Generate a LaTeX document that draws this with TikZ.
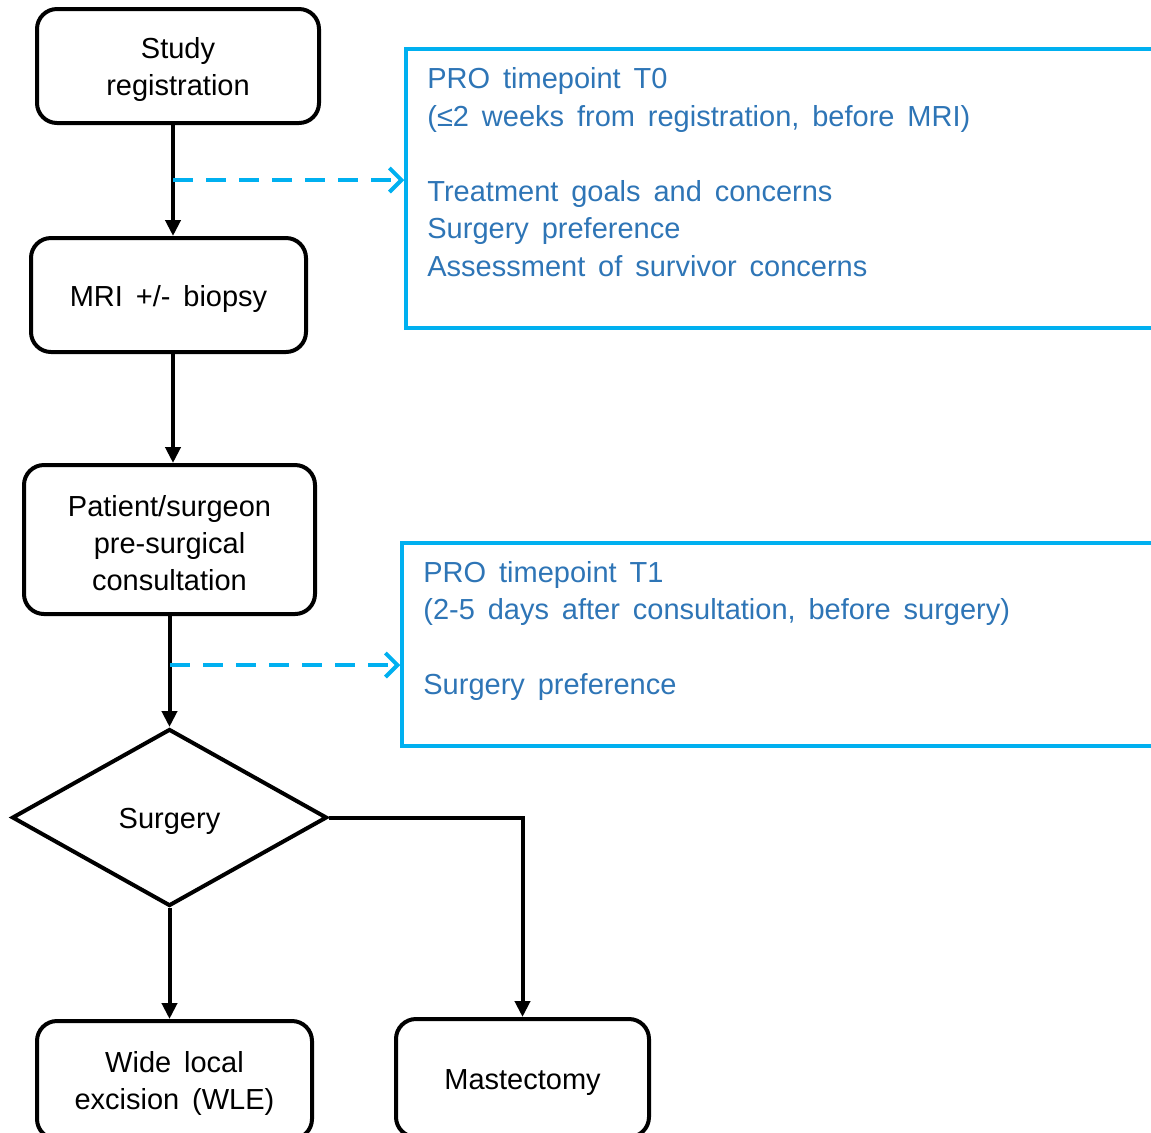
\documentclass[tikz,border=0pt]{standalone}
\usepackage{fontspec}
\setmainfont[WordSpace=1.6]{Liberation Sans}
\usetikzlibrary{shapes.geometric,arrows.meta}
\definecolor{procyan}{HTML}{00B0F0}
\definecolor{problue}{HTML}{2E75B6}
\newcommand{\tstrut}{\rule{0pt}{14pt}}

\begin{document}
\begin{tikzpicture}[x=0.5pt,y=-0.5pt,font=\fontsize{14.5}{18.5}\selectfont]
    \tikzstyle{block} = [rectangle, draw, line width=2pt, rounded corners=10pt,
        align=center, minimum height=57pt]
    \tikzstyle{decision} = [diamond, draw, line width=2pt, aspect=1.78,
        inner sep=0pt, minimum width=157.5pt, minimum height=88.5pt]
    \tikzstyle{line} = [draw, line width=2pt, -{Triangle[length=8pt,width=7.5pt]}]
    \tikzstyle{pro} = [rectangle, draw=procyan, line width=1.75pt]
    \tikzstyle{protext} = [anchor=north west, inner sep=0pt, align=left, text=problue,
        font=\fontsize{14.5}{18.75}\selectfont]
    \tikzstyle{dline} = [draw=procyan, line width=2pt, dash pattern=on 10pt off 6.5pt,
        -{Straight Barb[length=6pt,width=12pt]}]

    \useasboundingbox (0,0) rectangle (1151,1132);

    \node [block, minimum width=141pt] (reg) at (178,66) {\tstrut Study\\registration};
    \node [block, below of=reg, node distance=114.5pt, xshift=-4.75pt,
        minimum width=137.5pt] (mri) {\tstrut MRI +/- biopsy};
    \node [block, below of=mri, node distance=122.25pt, xshift=0.5pt,
        minimum width=145.5pt, minimum height=74.5pt] (consult)
        {\tstrut Patient/surgeon\\pre-surgical\\consultation};
    \node [decision, below of=consult, node distance=139pt] (surg) {\tstrut Surgery};
    \node [block, below of=surg, node distance=131.25pt, xshift=2.5pt,
        minimum width=137.5pt, minimum height=59pt] (wle) {\tstrut Wide local\\excision (WLE)};
    \node [block, right of=wle, node distance=174pt, yshift=1pt,
        minimum width=126.5pt, minimum height=59pt] (mast) {\tstrut Mastectomy};
    %
    \node [pro, minimum width=379.5pt, minimum height=139.5pt] (tzero) at (785.5,188.5) {};
    \node [protext] (tzerotxt) at (427,67.5) {PRO timepoint T0\\(≤2 weeks from registration, before MRI)\\[18.75pt]
        Treatment goals and concerns\\Surgery preference\\Assessment of survivor concerns};
    \node [pro, minimum width=381.5pt, minimum height=101.5pt] (tone) at (783.5,644.5) {};
    \node [protext] (tonetxt) at (423,561) {PRO timepoint T1\\(2-5 days after consultation, before surgery)\\[18.75pt]
        Surgery preference};
    %
    \coordinate (axis) at (173,0);
    \path [line] (reg.south -| axis) -- (mri.north -| axis);
    \path [line] (mri.south -| axis) -- (consult.north -| axis);
    \path [line] (consult.south) -- (surg.north);
    \path [line] (surg.south) -- (surg.south |- wle.north);
    \path [line] (surg.east) -| (mast.north);
    %
    \coordinate (d0) at (173,180);
    \path [dline] (d0) -- (d0 -| tzero.west);
    \coordinate (d1) at (170,665);
    \path [dline] (d1) -- (d1 -| tone.west);
\end{tikzpicture}
\end{document}
